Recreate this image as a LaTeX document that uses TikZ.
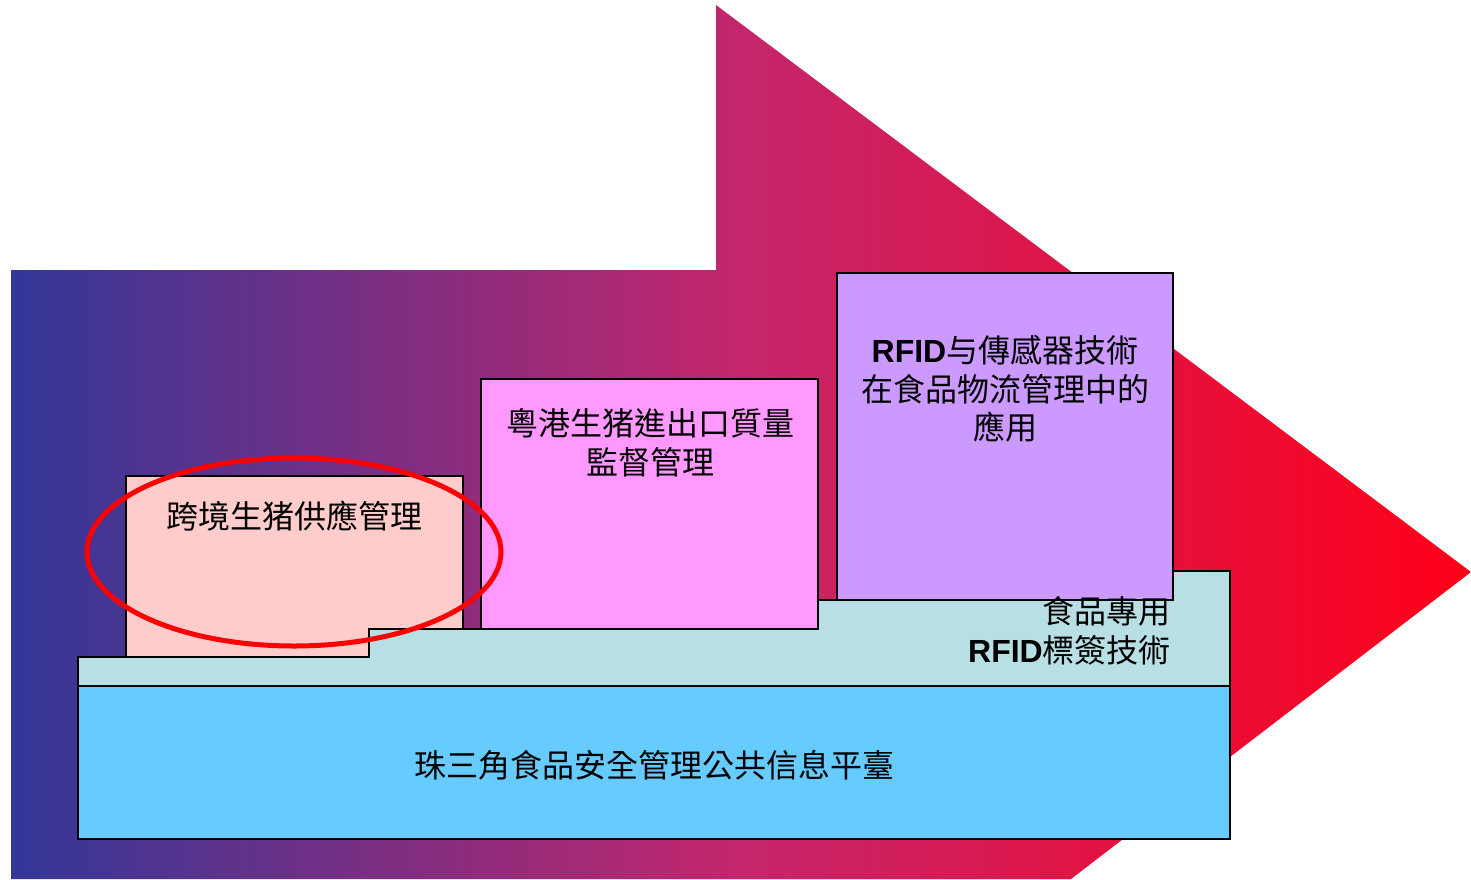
\documentclass[tikz,border=0pt]{standalone}
\usepackage{fontspec}
\setmainfont{Noto Sans CJK TC}
\newfontfamily\arialf{Liberation Sans}
\definecolor{arrowL}{RGB}{50,55,152}
\definecolor{arrowM}{RGB}{196,38,108}
\definecolor{arrowR}{RGB}{255,0,24}
\definecolor{baseblue}{RGB}{102,204,255}
\definecolor{tealstep}{RGB}{184,224,228}
\definecolor{pinkbox}{RGB}{255,204,204}
\definecolor{magbox}{RGB}{255,153,255}
\definecolor{purpbox}{RGB}{204,153,255}
\newcommand{\rf}{{\arialf\bfseries RFID}}
\begin{document}
\begin{tikzpicture}[x=1pt,y=-1pt,
  blk/.style={draw=black,line width=1.6pt},
  lbl/.style={font=\fontsize{32}{38.5}\selectfont,align=center,inner sep=0pt,text=black}]
\useasboundingbox (0,0) rectangle (1471,879);
% big arrow
\shade[left color=arrowL,right color=arrowR,middle color=arrowM]
  (11,270) -- (716,270) -- (716,5) -- (1471,572) -- (1071,879) -- (11,879) -- cycle;
% base platform
\draw[blk,fill=baseblue] (78,686) rectangle (1230,839);
% stepped teal layer
\draw[blk,fill=tealstep] (78,686) -- (78,657) -- (369,657) -- (369,629) -- (688,629)
  -- (688,600) -- (959,600) -- (959,571) -- (1230,571) -- (1230,686) -- cycle;
% boxes
\draw[blk,fill=pinkbox] (126,657) -- (126,476) -- (463,476) -- (463,629) -- (369,629) -- (369,657) -- cycle;
\draw[blk,fill=magbox] (481,629) rectangle (818,379);
\draw[blk,fill=purpbox] (837,600) rectangle (1173,273);
% labels
\node[lbl] (tbase) at (654,765) {珠三角食品安全管理公共信息平臺};
\node[lbl,align=right,anchor=east] (tteal) at (1171,631) {食品專用\\\rf 標簽技術};
\node[lbl] (tpink) at (294,516) {跨境生猪供應管理};
\node[lbl] (tmag) at (650,443) {粵港生猪進出口質量\\監督管理};
\node[lbl] (tpurp) at (1005,389) {\rf 与傳感器技術\\在食品物流管理中的\\應用};
% highlight ellipse
\draw[red,line width=5pt] (294,552) ellipse [x radius=207,y radius=94];
\end{tikzpicture}
\end{document}
